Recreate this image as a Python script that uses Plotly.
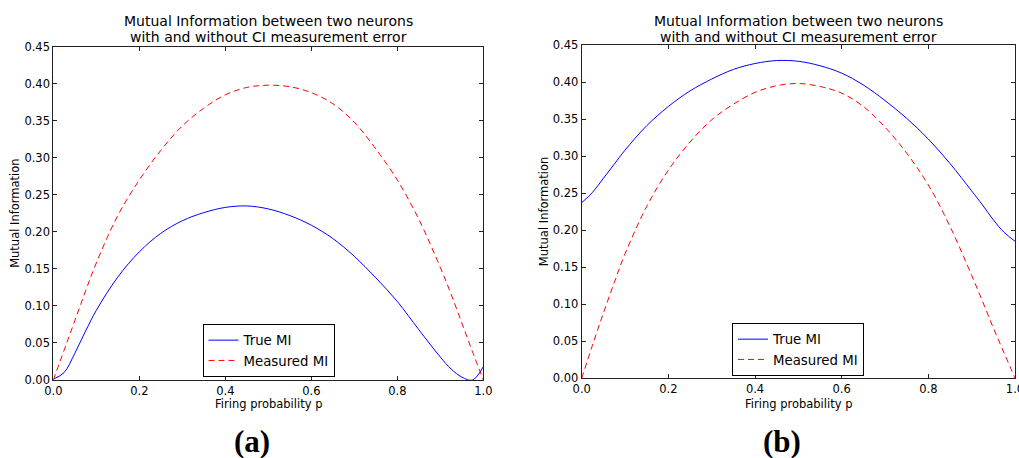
import plotly.graph_objects as go

W, H = 1019, 458

# ---- data ----
p = [0, 0.025, 0.05, 0.075, 0.1, 0.15, 0.2, 0.25, 0.3, 0.35, 0.4, 0.45, 0.5,
     0.55, 0.6, 0.65, 0.7, 0.75, 0.8, 0.85, 0.9, 0.925, 0.95, 0.975, 1.0]

true_mi_a = [0.001, 0.010, 0.036, 0.066, 0.094, 0.139, 0.173, 0.198, 0.215, 0.226,
             0.233, 0.235, 0.231, 0.222, 0.209, 0.191, 0.167, 0.138, 0.106,
             0.068, 0.031, 0.015, 0.004, 0.0, 0.018]
measured_mi_a = [0.0, 0.040, 0.080, 0.120, 0.158, 0.222, 0.270, 0.310, 0.343,
                 0.367, 0.385, 0.395, 0.398, 0.396, 0.388, 0.373, 0.348, 0.312,
                 0.270, 0.217, 0.152, 0.116, 0.077, 0.038, 0.0]

true_mi_b = [0.237, 0.251, 0.270, 0.289, 0.308, 0.341, 0.367, 0.388, 0.404, 0.417,
             0.425, 0.429, 0.428, 0.422, 0.412, 0.396, 0.375, 0.351, 0.323,
             0.290, 0.253, 0.234, 0.214, 0.197, 0.185]
measured_mi_b = [0.0, 0.045, 0.088, 0.129, 0.168, 0.232, 0.281, 0.319, 0.349,
                 0.370, 0.386, 0.395, 0.398, 0.394, 0.385, 0.367, 0.339, 0.304,
                 0.261, 0.205, 0.139, 0.104, 0.068, 0.034, 0.0]

x_ticks = [0.0, 0.2, 0.4, 0.6, 0.8, 1.0]
y_ticks = [0.00, 0.05, 0.10, 0.15, 0.20, 0.25, 0.30, 0.35, 0.40, 0.45]

series_names = ["True MI", "Measured MI"]
title_lines = ["Mutual Information between two neurons",
               "with and without CI measurement error"]
xlabel = "Firing probability p"
ylabel = "Mutual Information"
panel_labels = ["(a)", "(b)"]

# ---- layout helpers (pixel -> paper) ----
def px(x):
    return x / W

def py(y):
    return 1 - y / H

FONT = "DejaVu Sans"
BLUE = "#0000ff"
RED = "#ff0000"
AXC = "#222222"

panels = [
    dict(x0=53.3, x1=483.3, y0=46.7, y1=380.0, true=true_mi_a, meas=measured_mi_a,
         leg=(268.5, 377.0), ylab_x=15.5, label_xy=(252, 441)),
    dict(x0=581.7, x1=1015.0, y0=45.0, y1=378.3, true=true_mi_b, meas=measured_mi_b,
         leg=(798.0, 376.0), ylab_x=543.5, label_xy=(782, 441)),
]

fig = go.Figure()
layout = dict(
    template="none",
    width=W, height=H, autosize=False,
    margin=dict(l=0, r=0, t=0, b=0, pad=0, autoexpand=False),
    paper_bgcolor="white", plot_bgcolor="white",
    font=dict(family=FONT, size=11, color="black"),
    annotations=[],
)

for i, pn in enumerate(panels):
    k = "" if i == 0 else str(i + 1)
    xa, ya = "x" + k, "y" + k
    leg = "legend" if i == 0 else "legend" + str(i + 1)
    fig.add_trace(go.Scatter(x=p, y=pn["true"], mode="lines", name=series_names[0],
                             line=dict(color=BLUE, width=1, shape="spline", smoothing=1.0),
                             xaxis=xa, yaxis=ya, legend=leg, hoverinfo="skip"))
    fig.add_trace(go.Scatter(x=p, y=pn["meas"], mode="lines", name=series_names[1],
                             line=dict(color=RED, width=1, dash="6px,4px", shape="spline",
                                       smoothing=1.0),
                             xaxis=xa, yaxis=ya, legend=leg, hoverinfo="skip"))
    axcommon = dict(showgrid=False, zeroline=False, showline=True, linecolor=AXC,
                    linewidth=1, mirror="allticks", ticks="inside", ticklen=4,
                    tickcolor=AXC, tickwidth=1, automargin=False,
                    ticklabeloverflow="allow",
                    tickfont=dict(family=FONT, size=11.5, color="black"))
    layout["xaxis" + k] = dict(axcommon, domain=[px(pn["x0"]), px(pn["x1"])],
                               range=[0, 1], tickvals=x_ticks,
                               ticktext=[f"{v:.1f}" for v in x_ticks],
                               anchor=ya)
    layout["yaxis" + k] = dict(axcommon, domain=[py(pn["y1"]), py(pn["y0"])],
                               range=[0, 0.45], tickvals=y_ticks,
                               ticktext=[f"{v:.2f}" for v in y_ticks],
                               anchor=xa)
    layout[leg] = dict(x=px(pn["leg"][0]), y=py(pn["leg"][1]), xanchor="center",
                       yanchor="bottom", bgcolor="white", bordercolor="black",
                       borderwidth=1, font=dict(family=FONT, size=13.3, color="black"),
                       tracegroupgap=0, itemwidth=30)
    cx = (pn["x0"] + pn["x1"]) / 2
    for line, yy in zip(title_lines, [20.7, 36.7]):
        layout["annotations"].append(dict(text=line, x=px(cx), y=py(yy), xref="paper",
                                          yref="paper", showarrow=False, xanchor="center",
                                          yanchor="middle", font=dict(family=FONT, size=14)))
    layout["annotations"].append(dict(text=xlabel, x=px(cx), y=py(403.5), xref="paper",
                                      yref="paper", showarrow=False, xanchor="center",
                                      yanchor="middle", font=dict(family=FONT, size=11.5)))
    layout["annotations"].append(dict(text=ylabel, x=px(pn["ylab_x"]),
                                      y=py((pn["y0"] + pn["y1"]) / 2), xref="paper",
                                      yref="paper", showarrow=False, textangle=-90,
                                      xanchor="center", yanchor="middle",
                                      font=dict(family=FONT, size=11.5)))
    layout["annotations"].append(dict(text="<b>" + panel_labels[i] + "</b>",
                                      x=px(pn["label_xy"][0]), y=py(pn["label_xy"][1]),
                                      xref="paper", yref="paper", showarrow=False,
                                      xanchor="center", yanchor="middle",
                                      font=dict(family="Liberation Serif", size=31,
                                                color="black")))

fig.update_layout(**layout)
fig.write_html("out.html",
               config={"displayModeBar": False, "responsive": False},
               post_script="document.body.style.margin='0';document.body.style.padding='0';")
